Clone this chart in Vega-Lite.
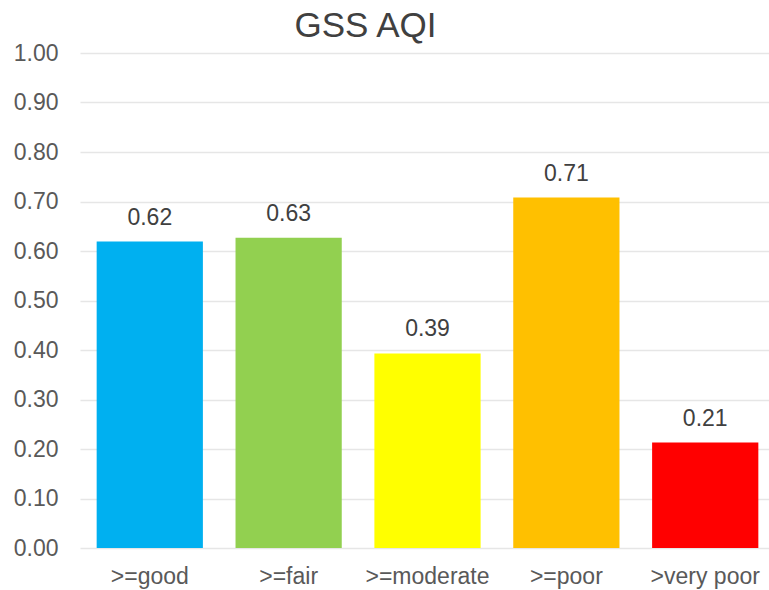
{
  "$schema": "https://vega.github.io/schema/vega-lite/v6.json",
  "autosize": "none",
  "padding": {"left": 80, "top": 53, "right": 0, "bottom": 42},
  "width": 695,
  "height": 495,
  "background": "white",
  "config": {"view": {"stroke": null}, "font": "Liberation Sans"},
  "title": {"text": "GSS AQI", "fontSize": 35, "fontWeight": "normal", "color": "#404040", "anchor": "middle", "dx": -62, "dy": 12, "offset": 10, "font": "Liberation Sans"},
  "data": {"values": [
    {"category": ">=good", "value": 0.619, "color": "#00B0F0"},
    {"category": ">=fair", "value": 0.627, "color": "#92D050"},
    {"category": ">=moderate", "value": 0.393, "color": "#FFFF00"},
    {"category": ">=poor", "value": 0.708, "color": "#FFC000"},
    {"category": ">very poor", "value": 0.213, "color": "#FF0000"}
  ]},
  "encoding": {
    "x": {"field": "category", "type": "nominal", "sort": null, "scale": {"paddingInner": 0.235, "paddingOuter": 0.12},
      "axis": {"title": null, "labelAngle": 0, "labelFontSize": 23, "labelColor": "#595959", "labelPadding": 17, "ticks": false, "domain": false}},
    "y": {"field": "value", "type": "quantitative", "scale": {"domain": [0, 1], "nice": false},
      "axis": {"title": null, "values": [0, 0.1, 0.2, 0.3, 0.4, 0.5, 0.6, 0.7, 0.8, 0.9, 1.0], "format": ".2f", "labelFontSize": 23, "labelColor": "#595959", "labelPadding": 22, "ticks": false, "domain": false, "gridColor": "#E6E6E6", "gridWidth": 1.3}}
  },
  "layer": [
    {"mark": {"type": "bar"}, "encoding": {"color": {"field": "color", "type": "nominal", "scale": null}}},
    {"mark": {"type": "text", "baseline": "alphabetic", "dy": -17, "fontSize": 23, "color": "#404040"}, "encoding": {"text": {"field": "value", "type": "quantitative", "format": ".2f"}}}
  ]
}
